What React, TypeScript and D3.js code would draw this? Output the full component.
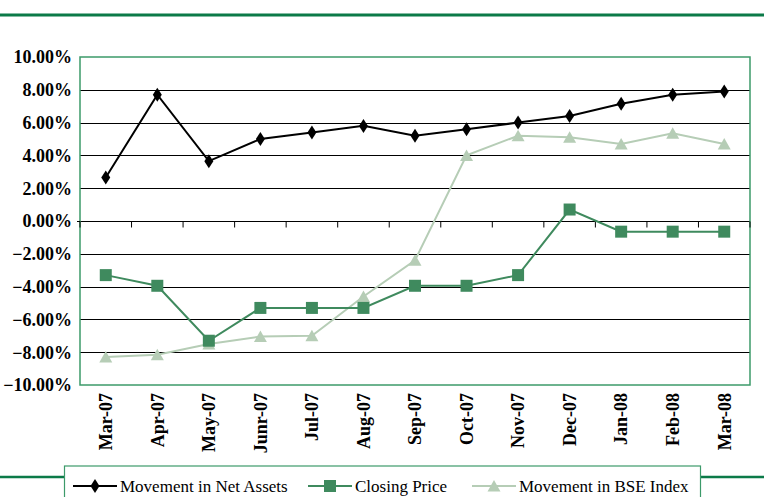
import React, { useRef, useEffect } from "react";
import * as d3 from "d3";

const months = [
  "Mar-07", "Apr-07", "May-07", "Junr-07", "Jul-07", "Aug-07", "Sep-07",
  "Oct-07", "Nov-07", "Dec-07", "Jan-08", "Feb-08", "Mar-08",
];
const netAssets = [2.65, 7.7, 3.65, 5.0, 5.4, 5.8, 5.2, 5.6, 6.0, 6.4, 7.15, 7.7, 7.9];
const closingPrice = [-3.3, -3.95, -7.3, -5.3, -5.3, -5.3, -3.95, -3.95, -3.3, 0.7, -0.65, -0.65, -0.65];
const bseIndex = [-8.3, -8.15, -7.5, -7.05, -7.0, -4.6, -2.4, 4.0, 5.2, 5.1, 4.7, 5.35, 4.7];
const yTicks = [10, 8, 6, 4, 2, 0, -2, -4, -6, -8, -10];

const W = 764;
const H = 497;
const GREEN = "#0b7a48";
const BORDER = "#3c9a6a";
const CLOSE = "#3f8a5e";
const BSE = "#b6cdb6";
const FONT = "Liberation Serif, Times New Roman, Times, serif";

const App: React.FC = () => {
  const svgRef = useRef<SVGSVGElement | null>(null);

  useEffect(() => {
    document.body.style.margin = "0";
    const svg = d3.select(svgRef.current);
    svg.selectAll("*").remove();

    const left = 80, right = 750, top = 57, bottom = 385;

    const x = d3.scaleBand<string>().domain(months).range([left, right]);
    const cx = (m: string) => (x(m) as number) + x.bandwidth() / 2;
    const y = d3.scaleLinear().domain([-10, 10]).range([bottom, top]);

    // header / footer rules
    svg.append("line").attr("x1", 0).attr("x2", W).attr("y1", 15).attr("y2", 15)
      .attr("stroke", GREEN).attr("stroke-width", 3);
    svg.append("line").attr("x1", 0).attr("x2", 64).attr("y1", 477).attr("y2", 477)
      .attr("stroke", GREEN).attr("stroke-width", 2.5);
    svg.append("line").attr("x1", 701).attr("x2", W).attr("y1", 477).attr("y2", 477)
      .attr("stroke", GREEN).attr("stroke-width", 2.5);

    // gridlines
    svg.append("g").selectAll("line")
      .data(yTicks.filter((t) => t !== 10 && t !== -10))
      .join("line")
      .attr("x1", left).attr("x2", right)
      .attr("y1", (d) => Math.round(y(d)) + 0.5).attr("y2", (d) => Math.round(y(d)) + 0.5)
      .attr("stroke", "#000").attr("stroke-width", 1.2);

    // plot border
    svg.append("rect").attr("x", left).attr("y", top)
      .attr("width", right - left).attr("height", bottom - top)
      .attr("fill", "none").attr("stroke", BORDER).attr("stroke-width", 1.5);

    // category ticks along the zero line
    const y0 = Math.round(y(0)) + 0.5;
    svg.append("g").selectAll("line")
      .data(d3.range(months.length + 1))
      .join("line")
      .attr("x1", (i) => left + i * x.step()).attr("x2", (i) => left + i * x.step())
      .attr("y1", y0).attr("y2", y0 + 6)
      .attr("stroke", "#000").attr("stroke-width", 1);
    svg.append("line").attr("x1", left - 3).attr("x2", left).attr("y1", y0).attr("y2", y0)
      .attr("stroke", "#000");

    // y labels
    svg.append("g").selectAll("text")
      .data(yTicks)
      .join("text")
      .attr("x", 72).attr("y", (d) => y(d))
      .attr("dy", "0.35em")
      .attr("text-anchor", "end")
      .attr("font-family", FONT)
      .attr("font-weight", "bold")
      .attr("font-size", 18)
      .text((d) => d3.format(".2f")(d) + "%");

    // x labels
    svg.append("g").selectAll("text")
      .data(months)
      .join("text")
      .attr("transform", (m) => `translate(${cx(m)},${bottom + 8}) rotate(-90)`)
      .attr("dy", "0.35em")
      .attr("text-anchor", "end")
      .attr("font-family", FONT)
      .attr("font-weight", "bold")
      .attr("font-size", 18)
      .text((m) => m);

    const diamond = "M0,-7L4.5,0L0,7L-4.5,0Z";
    const square = "M-6,-6H6V6H-6Z";
    const triangle = "M0,-6L6.5,5.5H-6.5Z";

    const series = [
      { values: bseIndex, color: BSE, marker: triangle, width: 2 },
      { values: closingPrice, color: CLOSE, marker: square, width: 2 },
      { values: netAssets, color: "#000", marker: diamond, width: 2 },
    ];

    const line = d3.line<number>()
      .x((_, i) => cx(months[i]))
      .y((d) => y(d));

    series.forEach((s) => {
      svg.append("path").datum(s.values)
        .attr("fill", "none").attr("stroke", s.color).attr("stroke-width", s.width)
        .attr("d", line);
      svg.append("g").selectAll("path")
        .data(s.values)
        .join("path")
        .attr("transform", (d, i) => `translate(${cx(months[i])},${y(d)})`)
        .attr("d", s.marker)
        .attr("fill", s.color);
    });

    // legend
    svg.append("rect").attr("x", 64.5).attr("y", 466).attr("width", 636).attr("height", 40)
      .attr("fill", "#fff").attr("stroke", BORDER).attr("stroke-width", 1.2);
    const legendItems = [
      { label: "Movement in Net Assets", color: "#000", marker: diamond, x: 73 },
      { label: "Closing Price", color: CLOSE, marker: square, x: 308 },
      { label: "Movement in BSE Index", color: BSE, marker: triangle, x: 472 },
    ];
    const ly = 486;
    const lg = svg.append("g").selectAll("g").data(legendItems).join("g")
      .attr("transform", (d) => `translate(${d.x},${ly})`);
    lg.append("line").attr("x1", 0).attr("x2", 44).attr("y1", 0).attr("y2", 0)
      .attr("stroke", (d) => d.color).attr("stroke-width", 2);
    lg.append("path").attr("transform", "translate(22,0)")
      .attr("d", (d) => d.marker).attr("fill", (d) => d.color);
    lg.append("text").attr("x", 47).attr("y", 0).attr("dy", "0.35em")
      .attr("font-family", FONT)
      .attr("font-size", 17)
      .text((d) => d.label);
  }, []);

  return <svg ref={svgRef} width={W} height={H} style={{ display: "block" }}></svg>;
};

export default App;
